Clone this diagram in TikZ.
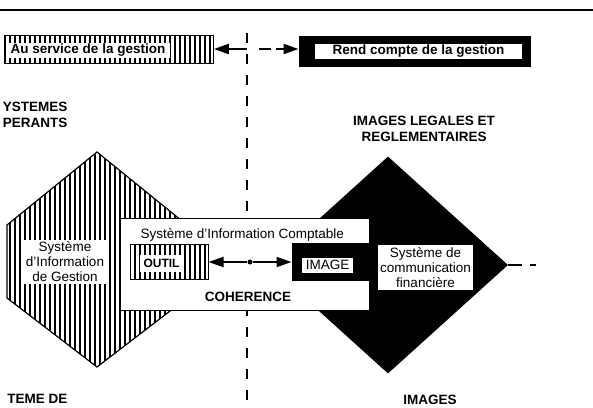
\documentclass[tikz,border=0pt]{standalone}
\usepackage{fontspec}
\setmainfont{Liberation Sans}
\usetikzlibrary{positioning,arrows.meta,patterns.meta,shapes.geometric}

\tikzset{
  txt/.style={font=\fontsize{13.5}{15}\selectfont},
  btxt/.style={font=\fontsize{13.5}{16}\selectfont\bfseries},
  hatch/.style={pattern={Lines[angle=90,distance=5pt,line width=1.8pt]}},
  outerbox/.style={draw,line width=1pt,inner sep=0pt},
  txtbox/.style={fill=white,inner sep=0pt},
  fat/.style={line width=2.4pt,black,-{Triangle[length=15pt,width=10pt]}},
  sepline/.style={line width=2.6pt,dash pattern=on 10pt off 11pt},
}

\begin{document}
\begin{tikzpicture}[x=1pt,y=-1pt]
\useasboundingbox (0,0) rectangle (593,407);

\draw [line width=1.5pt] (0,10)--(593,10);

% separation
\coordinate (septop) at (247,33);
\coordinate (sepbot) at (247,412);
\draw [sepline] (septop)--(sepbot);

% top boxes
\node [outerbox,hatch,minimum width=209pt,minimum height=28pt](service) at (108.5,49) {};
\node [txtbox,btxt,minimum width=164pt,minimum height=15pt](servicetxt) at (88,50.5) {Au service de la gestion};
\node [outerbox,fill=black,minimum width=231pt,minimum height=30pt](rendu) at (414.5,51) {};
\node [txtbox,btxt,minimum width=207pt,minimum height=15pt](rendutxt) at ([xshift=4pt]rendu.center) {Rend compte de la gestion};

\coordinate (sepl) at (247,49);
\coordinate (sepr) at (259,49);
\draw [fat] (sepl)--(service);
\draw [fat,dash pattern=on 12pt off 5pt] (sepr)--(rendu.west|-sepr);

\node [btxt,align=right,anchor=east](operants) at (71,115) {YSTEMES\\PERANTS};
\node [btxt,align=center](legal) at (424,129) {IMAGES LEGALES ET\\REGLEMENTAIRES};

% shapes
\draw [hatch,line width=1.2pt] (97,152)--(187,225)--(187,298)--(97,367)--(7,298)--(7,225)--cycle;
\node [diamond,fill=black,inner sep=0pt,minimum width=240pt,minimum height=217pt](scfdia) at (388,265) {};
\coordinate (scfend) at (537,265);
\draw [line width=2.6pt,dash pattern=on 14pt off 8pt on 6pt off 20pt] (scfdia.east)--(scfend);

\node [txt,txtbox,align=center,inner sep=2pt](sig) at (65,262) {Système\\d'Information\\de Gestion};
\node [txt,txtbox,align=center,inner sep=2pt](scf) at (425.5,267.5) {Système de\\communication\\financière};

% systeme d'information comptable
\node [draw,line width=1.2pt,fill=white,minimum width=250pt,minimum height=92pt](sic) at (245,264.5) {};
\node [txt,anchor=base west](sictitle) at (137,238) {Système d'Information Comptable};

\node [outerbox,hatch,minimum width=78pt,minimum height=35pt](outil) at (169,262) {};
\node [txtbox,font=\fontsize{12}{14}\selectfont\bfseries,minimum width=43pt,minimum height=17pt](outiltxt) at ([xshift=-7.5pt,yshift=-1pt]outil.center) {OUTIL};
\node [outerbox,fill=black,minimum width=76pt,minimum height=37pt](image) at (330,262) {};
\node [txtbox,txt,minimum width=51pt,minimum height=15pt](imagetxt) at ([xshift=-2.5pt,yshift=-3pt]image.center) {IMAGE};

\node [circle,fill=black,inner sep=0pt,minimum size=5pt](mid) at (250,262) {};
\draw [fat,line width=2pt] (mid)--(outil);
\draw [fat,line width=2pt] (mid)--(image);

\node [btxt](coh) at (248,297) {COHERENCE};

% bottom
\node [btxt,anchor=base east](pilotage) at (71,403) {TEME DE};
\node [btxt,anchor=base](images) at (430,404) {IMAGES};

\end{tikzpicture}
\end{document}
